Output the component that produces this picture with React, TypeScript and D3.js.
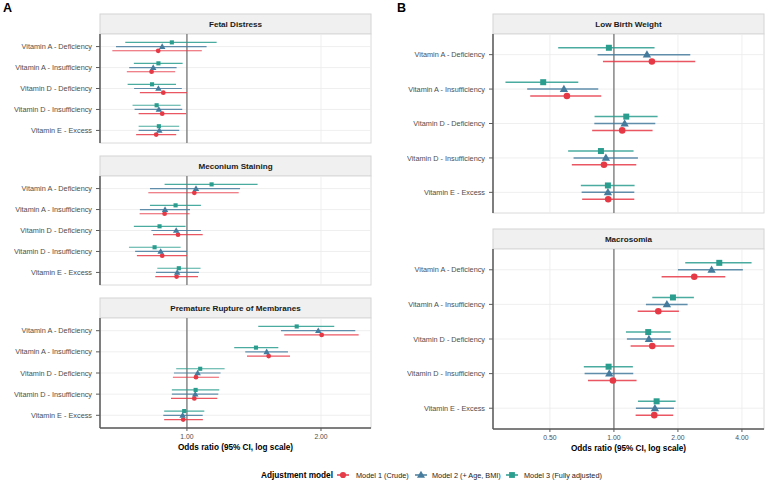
import React from "react";
import * as d3 from "d3";

const categories = [
  "Vitamin A - Deficiency",
  "Vitamin A - Insufficiency",
  "Vitamin D - Deficiency",
  "Vitamin D - Insufficiency",
  "Vitamin E - Excess",
];
const models = ["Model 1 (Crude)", "Model 2 (+ Age, BMI)", "Model 3 (Fully adjusted)"];
const modelColors = ["#E63946", "#457B9D", "#2A9D8F"];

// [OR, lower, upper] per category
const fetalM1 = [[0.862, 0.68, 1.08], [0.833, 0.733, 0.941], [0.885, 0.784, 1.0], [0.88, 0.779, 0.996], [0.853, 0.769, 0.946]];
const fetalM2 = [[0.88, 0.693, 1.107], [0.84, 0.742, 0.948], [0.863, 0.761, 0.974], [0.865, 0.763, 0.976], [0.867, 0.779, 0.961]];
const fetalM3 = [[0.925, 0.727, 1.166], [0.863, 0.76, 0.978], [0.835, 0.736, 0.945], [0.855, 0.755, 0.968], [0.865, 0.779, 0.961]];

const meconiumM1 = [[1.039, 0.819, 1.307], [0.891, 0.783, 1.014], [0.955, 0.839, 1.085], [0.88, 0.772, 1.0], [0.948, 0.849, 1.059]];
const meconiumM2 = [[1.048, 0.826, 1.316], [0.893, 0.784, 1.016], [0.946, 0.832, 1.075], [0.873, 0.765, 1.0], [0.951, 0.852, 1.064]];
const meconiumM3 = [[1.136, 0.891, 1.441], [0.943, 0.826, 1.075], [0.868, 0.76, 0.993], [0.846, 0.741, 0.968], [0.959, 0.858, 1.073]];

const promM1 = [[2.007, 1.654, 2.43], [1.526, 1.364, 1.704], [1.048, 0.93, 1.18], [1.039, 0.921, 1.17], [0.981, 0.889, 1.086]];
const promM2 = [[1.972, 1.626, 2.388], [1.51, 1.352, 1.686], [1.057, 0.935, 1.19], [1.044, 0.925, 1.176], [0.978, 0.885, 1.085]];
const promM3 = [[1.764, 1.446, 2.142], [1.429, 1.277, 1.604], [1.071, 0.946, 1.215], [1.046, 0.925, 1.182], [0.986, 0.889, 1.094]];

const lbwM1 = [[1.509, 0.888, 2.413], [0.601, 0.404, 0.872], [1.094, 0.79, 1.52], [0.898, 0.634, 1.274], [0.94, 0.709, 1.247]];
const lbwM2 = [[1.43, 0.838, 2.286], [0.582, 0.391, 0.844], [1.123, 0.809, 1.565], [0.917, 0.646, 1.297], [0.937, 0.705, 1.247]];
const lbwM3 = [[0.947, 0.547, 1.553], [0.465, 0.309, 0.68], [1.143, 0.811, 1.605], [0.869, 0.609, 1.237], [0.937, 0.699, 1.251]];

const macroM1 = [[2.387, 1.676, 3.34], [1.617, 1.293, 2.022], [1.515, 1.198, 1.922], [0.989, 0.755, 1.278], [1.548, 1.265, 1.901]];
const macroM2 = [[2.88, 2.0, 4.04], [1.775, 1.414, 2.221], [1.461, 1.151, 1.854], [0.951, 0.728, 1.233], [1.559, 1.269, 1.915]];
const macroM3 = [[3.13, 2.165, 4.44], [1.895, 1.515, 2.378], [1.45, 1.139, 1.847], [0.944, 0.722, 1.228], [1.588, 1.297, 1.951]];

const ticksA = [1, 2];
const ticksB = [0.5, 1, 2, 4];
const tickLabelsA = ["1.00", "2.00"];
const tickLabelsB = ["0.50", "1.00", "2.00", "4.00"];

const FONT = "'Liberation Sans', Arial, sans-serif";

type Facet = { title: string; series: number[][][]; top: number; bottom: number };

const columnA: Facet[] = [
  { title: "Fetal Distress", series: [fetalM1, fetalM2, fetalM3], top: 14, bottom: 143 },
  { title: "Meconium Staining", series: [meconiumM1, meconiumM2, meconiumM3], top: 156, bottom: 285 },
  { title: "Premature Rupture of Membranes", series: [promM1, promM2, promM3], top: 298, bottom: 428 },
];
const columnB: Facet[] = [
  { title: "Low Birth Weight", series: [lbwM1, lbwM2, lbwM3], top: 14, bottom: 213 },
  { title: "Macrosomia", series: [macroM1, macroM2, macroM3], top: 229, bottom: 429 },
];

const symbolTypes = [d3.symbolCircle, d3.symbolTriangle, d3.symbolSquare];

function Column({
  facets, x0, x1, domain, ticks, tickLabels, big, label, labelX,
}: {
  facets: Facet[]; x0: number; x1: number; domain: [number, number];
  ticks: number[]; tickLabels: string[]; big: boolean; label: string; labelX: number;
}) {
  const x = d3.scaleLog().domain(domain).range([x0, x1]);
  const stripH = 20;
  const symSizes = big ? [34, 30, 36] : [18, 18, 17];
  const lw = big ? 1.5 : 1.2;
  const last = facets[facets.length - 1];
  return (
    <g>
      <text x={labelX} y={12} fontFamily={FONT} fontWeight="bold" fontSize={12.5} fill="#000">{label}</text>
      {facets.map((f, fi) => {
        const pTop = f.top + stripH;
        const y = d3.scalePoint<string>().domain(categories).range([pTop, f.bottom]).padding(0.6);
        const step = y.step();
        const dodge = step * 0.2;
        return (
          <g key={fi}>
            <rect x={x0} y={f.top} width={x1 - x0} height={stripH} fill="#F0F0F0" stroke="#D4D4D4" strokeWidth={1} />
            <text x={(x0 + x1) / 2} y={f.top + stripH / 2 + 3} textAnchor="middle" fontFamily={FONT} fontWeight="bold" fontSize={8.1} fill="#1a1a1a">{f.title}</text>
            <rect x={x0} y={pTop} width={x1 - x0} height={f.bottom - pTop} fill="#fff" stroke="#DADADA" strokeWidth={1} />
            {categories.map((c) => (
              <line key={c} x1={x0} x2={x1} y1={y(c)!} y2={y(c)!} stroke="#EBEBEB" strokeWidth={0.8} />
            ))}
            {ticks.map((t) => (
              <line key={t} x1={x(t)} x2={x(t)} y1={pTop} y2={f.bottom} stroke="#EBEBEB" strokeWidth={0.8} />
            ))}
            <line x1={x(1)} x2={x(1)} y1={pTop} y2={f.bottom} stroke="#777" strokeWidth={1.3} />
            {f.series.map((s, mi) => (
              <g key={mi}>
                {s.map((d, ci) => {
                  const cy = y(categories[ci])! + (mi - 1) * -dodge;
                  return (
                    <g key={ci}>
                      <line x1={x(d[1])} x2={x(d[2])} y1={cy} y2={cy} stroke={modelColors[mi]} strokeWidth={lw} strokeOpacity={0.85} />
                      <path
                        d={d3.symbol().type(symbolTypes[mi]).size(symSizes[mi])()!}
                        transform={`translate(${x(d[0])},${cy + (mi === 1 ? 0.5 : 0)})`}
                        fill={modelColors[mi]}
                      />
                    </g>
                  );
                })}
              </g>
            ))}
            <line x1={x0} x2={x0} y1={pTop} y2={f.bottom} stroke="#5a5a5a" strokeWidth={1.5} />
            <g opacity={0.99}>
              {categories.map((c) => (
                <g key={c}>
                  <line x1={x0 - 4} x2={x0} y1={y(c)!} y2={y(c)!} stroke="#5a5a5a" strokeWidth={1} />
                  <text x={x0 - 8} y={y(c)! + 2.6} textAnchor="end" fontFamily={FONT} fontSize={7.3} fill="#4d4d4d">{c}</text>
                </g>
              ))}
            </g>
          </g>
        );
      })}
      <line x1={x0} x2={x1} y1={last.bottom} y2={last.bottom} stroke="#5a5a5a" strokeWidth={1.5} />
      <g opacity={0.99}>
        {ticks.map((t, i) => (
          <g key={t}>
            <line x1={x(t)} x2={x(t)} y1={last.bottom} y2={last.bottom + 3} stroke="#5a5a5a" strokeWidth={1} />
            <text x={x(t)} y={last.bottom + 11} textAnchor="middle" fontFamily={FONT} fontSize={6.8} fill="#4d4d4d">{tickLabels[i]}</text>
          </g>
        ))}
      </g>
      <text x={(x0 + x1) / 2} y={last.bottom + 22} textAnchor="middle" fontFamily={FONT} fontWeight="bold" fontSize={8.2} fill="#000">Odds ratio (95% CI, log scale)</text>
    </g>
  );
}

function Legend() {
  const keyX = [343, 421, 512];
  const textX = [356, 432, 524];
  const y = 475;
  const sizes = [30, 28, 34];
  return (
    <g opacity={0.99}>
      <text x={261} y={y + 3} fontFamily={FONT} fontWeight="bold" fontSize={8.25} fill="#000">Adjustment model</text>
      {models.map((m, i) => (
        <g key={m}>
          <line x1={keyX[i] - 6} x2={keyX[i] + 6} y1={y} y2={y} stroke={modelColors[i]} strokeWidth={1.5} />
          <path d={d3.symbol().type(symbolTypes[i]).size(sizes[i])()!} transform={`translate(${keyX[i]},${y + (i === 1 ? 0.5 : 0)})`} fill={modelColors[i]} />
          <text x={textX[i]} y={y + 2.6} fontFamily={FONT} fontSize={7.3} fill="#1a1a1a">{m}</text>
        </g>
      ))}
    </g>
  );
}

export default function App() {
  return (
    <svg width={767} height={484} style={{ position: "absolute", left: 0, top: 0, background: "#fff" }}>
      <rect width={767} height={484} fill="#fff" />
      <Column facets={columnA} x0={100} x1={371} domain={[0.638, 2.59]} ticks={ticksA} tickLabels={tickLabelsA} big={false} label="A" labelX={3} />
      <Column facets={columnB} x0={493} x1={764} domain={[0.27, 5.08]} ticks={ticksB} tickLabels={tickLabelsB} big={true} label="B" labelX={397} />
      <Legend />
    </svg>
  );
}
